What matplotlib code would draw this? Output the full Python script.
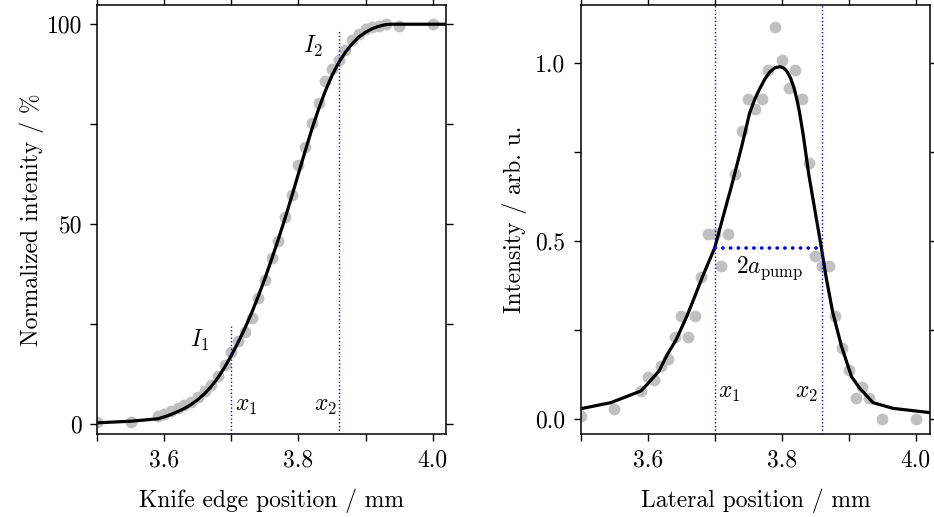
import matplotlib
matplotlib.use("Agg")
import matplotlib.pyplot as plt

plt.rcParams["font.family"] = "serif"
plt.rcParams["font.serif"] = ["cmr10", "DejaVu Serif"]
plt.rcParams["mathtext.fontset"] = "cm"
plt.rcParams["axes.formatter.use_mathtext"] = True

# --- knife-edge scan (left) -------------------------------------------------
pos = [3.50, 3.55, 3.59, 3.60, 3.61, 3.62, 3.63, 3.64, 3.65, 3.66, 3.67,
       3.68, 3.69, 3.70, 3.71, 3.72, 3.73, 3.74, 3.75, 3.76, 3.77, 3.78,
       3.79, 3.80, 3.81, 3.82, 3.83, 3.84, 3.85, 3.86, 3.87, 3.88, 3.89,
       3.90, 3.91, 3.92, 3.93, 3.95, 4.00]
knife = [0.5, 0.6, 2.0, 2.6, 3.3, 4.0, 4.8, 5.6, 6.8, 8.3, 9.8,
         12.0, 14.8, 18.0, 20.8, 23.2, 26.7, 31.5, 36.1, 41.7, 45.9, 51.9,
         57.3, 64.8, 69.2, 75.3, 80.4, 85.8, 88.8, 91.1, 93.6, 96.1, 97.6,
         98.8, 99.4, 99.6, 100.1, 99.6, 100.1]

fit_x = [3.50, 3.55, 3.59, 3.60, 3.61, 3.62, 3.63, 3.64, 3.65, 3.66, 3.67,
         3.68, 3.69, 3.70, 3.71, 3.72, 3.73, 3.74, 3.75, 3.76, 3.77, 3.78,
         3.79, 3.80, 3.81, 3.82, 3.83, 3.84, 3.85, 3.86, 3.87, 3.88, 3.89,
         3.90, 3.91, 3.92, 3.93, 3.94, 4.02]
fit_y = [0.4, 0.8, 1.4, 1.9, 2.5, 3.2, 4.0, 5.0, 6.2, 7.7, 9.5,
         11.7, 14.3, 17.3, 20.5, 24.0, 27.8, 32.0, 36.5, 41.3, 46.3, 51.5,
         57.0, 62.7, 68.3, 73.8, 78.8, 83.3, 87.2, 90.4, 93.0, 95.1, 96.8,
         98.0, 98.9, 99.5, 99.9, 100.0, 100.0]

# --- lateral profile (right) ------------------------------------------------
profile = [0.01, 0.03, 0.08, 0.12, 0.11, 0.15, 0.17, 0.23, 0.29, 0.23, 0.29,
           0.40, 0.52, 0.52, 0.43, 0.52, 0.69, 0.81, 0.90, 0.87, 0.90, 0.98,
           1.10, 1.01, 0.93, 0.98, 0.90, 0.72, 0.46, 0.43, 0.43, 0.29, 0.20,
           0.14, 0.06, 0.09, 0.06, 0.00, 0.00]

prof_fit_x = [3.500, 3.545, 3.590, 3.600, 3.617, 3.630, 3.642, 3.658, 3.670,
              3.682, 3.700, 3.712, 3.725, 3.740, 3.752, 3.760, 3.767, 3.775,
              3.782, 3.790, 3.797, 3.803, 3.808, 3.813, 3.818, 3.822, 3.826,
              3.832, 3.840, 3.850, 3.859, 3.866, 3.876, 3.889, 3.904, 3.916,
              3.936, 3.966, 4.021]
prof_fit_y = [0.030, 0.047, 0.080, 0.100, 0.136, 0.185, 0.222, 0.288, 0.344,
              0.402, 0.482, 0.566, 0.655, 0.765, 0.860, 0.900, 0.928, 0.956,
              0.975, 0.987, 0.990, 0.986, 0.976, 0.958, 0.932, 0.902, 0.866,
              0.798, 0.690, 0.580, 0.482, 0.400, 0.300, 0.205, 0.120, 0.088,
              0.047, 0.031, 0.019]

x1, x2 = 3.70, 3.86
half_max = 0.482

xticks = [3.5, 3.6, 3.7, 3.8, 3.9, 4.0]
xticklabels = ["", "3.6", "", "3.8", "", "4.0"]

FS = 17
DOT = dict(marker="o", linestyle="none", color="#c0c0c0", markersize=8.5,
           markeredgewidth=0, zorder=2)

fig = plt.figure(figsize=(9.34, 5.17), dpi=100)
ax_l = fig.add_axes([0.1042, 0.1605, 0.3733, 0.8298])
ax_r = fig.add_axes([0.6217, 0.1605, 0.3740, 0.8298])

# left
ax_l.plot(pos, knife, **DOT)
ax_l.plot(fit_x, fit_y, color="black", linewidth=2.3, zorder=3)
ax_l.plot([x1, x1], [-2.5, 24.5], color="blue", linestyle=":", linewidth=1.0, zorder=4)
ax_l.plot([x2, x2], [-2.5, 98.2], color="blue", linestyle=":", linewidth=1.0, zorder=4)
ax_l.text(3.653, 21, r"$I_1$", fontsize=FS, ha="center", va="center")
ax_l.text(3.822, 94.5, r"$I_2$", fontsize=FS, ha="center", va="center")
ax_l.text(3.722, 4.5, r"$x_1$", fontsize=FS, ha="center", va="center")
ax_l.text(3.840, 4.5, r"$x_2$", fontsize=FS, ha="center", va="center")
ax_l.set_xlim(3.5, 4.02)
ax_l.set_ylim(-2.4, 104.8)
ax_l.set_yticks([0, 25, 50, 75, 100])
ax_l.set_yticklabels(["0", "", "50", "", "100"])
ax_l.set_xlabel("Knife edge position / mm", fontsize=FS, labelpad=12)
ax_l.set_ylabel("Normalized intenity / %", fontsize=FS, labelpad=2)

# right
ax_r.plot(pos, profile, **DOT)
ax_r.plot(prof_fit_x, prof_fit_y, color="black", linewidth=2.3, zorder=3)
ax_r.axvline(x1, color="blue", linestyle=":", linewidth=1.0, zorder=4)
ax_r.axvline(x2, color="blue", linestyle=":", linewidth=1.0, zorder=4)
ax_r.plot([x1, x2], [half_max, half_max], color="blue", linewidth=2.6,
          linestyle=(0, (0.05, 2.1)), dash_capstyle="round", zorder=4)
ax_r.text(3.722, 0.074, r"$x_1$", fontsize=FS, ha="center", va="center")
ax_r.text(3.837, 0.074, r"$x_2$", fontsize=FS, ha="center", va="center")
ax_r.text(3.782, 0.424, r"$2a_{\mathrm{pump}}$", fontsize=FS, ha="center", va="center")
ax_r.set_xlim(3.5, 4.021)
ax_r.set_ylim(-0.041, 1.163)
ax_r.set_yticks([0, 0.25, 0.5, 0.75, 1.0])
ax_r.set_yticklabels(["0.0", "", "0.5", "", "1.0"])
ax_r.set_xlabel("Lateral position / mm", fontsize=FS, labelpad=12)
ax_r.set_ylabel("Intensity / arb. u.", fontsize=FS, labelpad=6)

for ax in (ax_l, ax_r):
    ax.set_xticks(xticks)
    ax.set_xticklabels(xticklabels)
    ax.tick_params(direction="out", length=5, width=1.0, labelsize=FS,
                   top=True, right=True, pad=6)
    for sp in ax.spines.values():
        sp.set_linewidth(1.1)

fig.savefig("out.png", dpi=100)
